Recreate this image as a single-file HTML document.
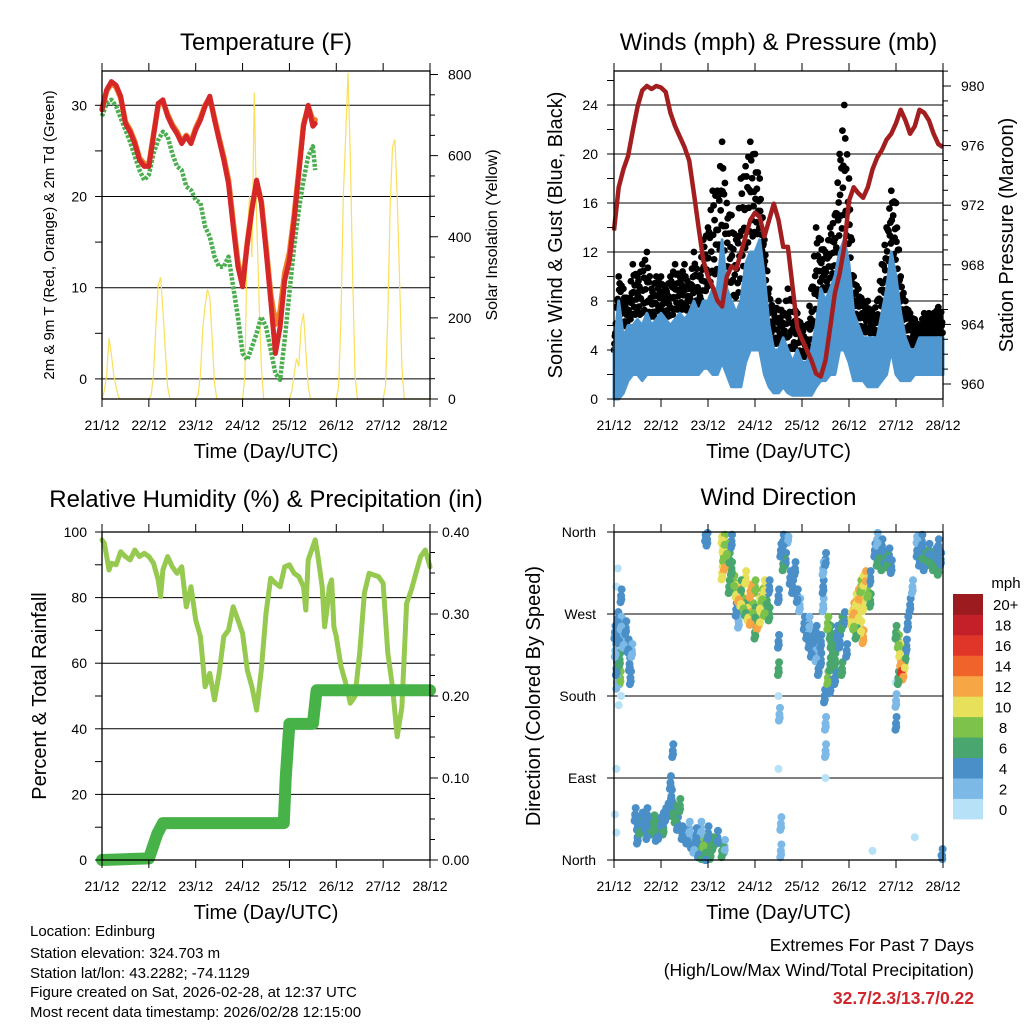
<!DOCTYPE html>
<html><head><meta charset="utf-8">
<style>
html,body{margin:0;padding:0;background:#fff;}
svg{display:block;font-family:"Liberation Sans",Arial,sans-serif;}
</style></head>
<body>
<svg id="fig" width="1024" height="1024" viewBox="0 0 1024 1024" xmlns="http://www.w3.org/2000/svg">
<rect width="1024" height="1024" fill="#fff"/>
<g id="layer"></g>
<g font-size="15" fill="#000">
<text x="30" y="936">Location: Edinburg</text>
<text x="30" y="958">Station elevation: 324.703 m</text>
<text x="30" y="978">Station lat/lon: 43.2282; -74.1129</text>
<text x="30" y="997">Figure created on Sat, 2026-02-28, at 12:37 UTC</text>
<text x="30" y="1017">Most recent data timestamp: 2026/02/28 12:15:00</text>
</g>
<g font-size="17.5" text-anchor="end">
<text x="974" y="951">Extremes For Past 7 Days</text>
<text x="974" y="976">(High/Low/Max Wind/Total Precipitation)</text>
<text x="974" y="1004" fill="#d0262c" font-weight="bold">32.7/2.3/13.7/0.22</text>
</g>
</svg>
<script>
// ---------- data ----------
const dayLabels = ["21/12","22/12","23/12","24/12","25/12","26/12","27/12","28/12"];
const tempTime = [0,0.1,0.2,0.3,0.4,0.5,0.6,0.7,0.8,0.9,1.0,1.1,1.2,1.3,1.4,1.5,1.6,1.7,1.8,1.9,2.0,2.1,2.2,2.3,2.4,2.5,2.6,2.7,2.8,2.9,3.0,3.1,3.2,3.3,3.4,3.5,3.6,3.7,3.8,3.9,4.0,4.1,4.2,4.3,4.4,4.5,4.55];
const temp2m = [29.5,31.7,32.6,32.2,31,28,27.1,25.8,24,23.3,23.3,26.6,30.2,30.6,28.8,27.7,26.9,25.8,26.6,25.8,27.3,28.4,29.9,31,28.4,26.2,24,21.4,16.7,12.3,10.1,14.8,18.5,21.8,19.3,14.1,8.6,2.8,5.7,10.8,13,17.4,22.5,27.7,30,27.7,28];
const temp9m = [29.6,31.6,32.4,32.0,30.8,28.2,27.3,26.0,24.2,23.6,23.5,26.8,30.0,30.4,29.0,27.9,27.1,26.0,26.7,26.0,27.5,28.6,30.0,30.8,28.6,26.4,24.3,21.8,17.2,12.8,10.4,15.0,18.7,21.6,19.5,14.6,9.3,6.0,7.4,11.6,13.8,17.9,22.8,27.9,29.8,28.4,28.4];
const dewTime = tempTime;
const dew2m = [28.8,30.2,30.6,29.9,28.6,27.3,26,24.4,22.9,21.8,22.4,24.7,26.2,27.1,26.6,24.7,23.3,22.9,21.1,20.7,19.6,19.3,16.7,15.6,13.4,12.3,12.3,13.4,10.1,6.8,2.8,2.1,3.5,5,6.8,5.7,3.2,0.6,-0.1,4.3,9.4,14.5,18.5,21.8,24.4,25.5,22.9];
const solarStep = 0.05;
const solar = [
0,20,60,150,110,60,30,5,0,0,0,0,0,0,0,0,0,0,0,0,
0,10,60,180,280,300,220,120,30,0,0,0,0,0,0,0,0,0,0,0,
0,10,60,170,230,270,250,150,40,0,0,0,0,0,0,0,0,0,0,0,
0,60,400,500,350,755,450,250,80,0,0,0,0,0,0,0,0,0,0,0,
0,20,60,100,80,180,211,120,30,0,0,0,0,0,0,0,0,0,0,0,
0,30,200,500,650,804,600,300,60,0,0,0,0,0,0,0,0,0,0,0,
0,30,200,480,620,640,500,300,80,0,0,0,0,0,0,0,0,0,0,0,
0];
const windStep = 0.1;
const windHi = [4,8,5,6,6,6.5,6,7,6,6.5,7,6.5,6,6.5,7,6.5,7,8,7,8,8,9,9,13,9,8,7,8,11,12,12,13,10,6,4,4,5,4,3,4,3,3,4,6,9,8,9,10,12,13,11,7,6,5,5,5,5,7,9,12,10,7,5,4,4,5,5,5,5,5,5];
const windLo = [0,0,0.5,1.5,2,2,1.5,2,2,2,2,2,2,2,2,2,2,2,2,2.5,2.5,2,2,3,2,1,1,1,3,4,4,4,2,1,0.5,0.5,1,0.5,0.3,0.3,0.3,0.3,0.3,1,1.5,1.5,2,2,4,4,3,1.5,1.5,1.5,1,1,1,1.5,2,4,2,1.5,1.5,1.5,2,2,2,2,2,2,2];
const gust = [4,10,9,8,11,10,11,12,9,10,10,9,10,11,10,11,9,12,10,13,14,17,17,21,16,15,13,18,19,21,20,18,13,9,7,8,7,9,8,7,6,6,9,14,13,12,14,15,20,24,18,10,9,8,8,7,8,11,14,17,16,10,8,7,6.5,6,7,7,7,7.5,7];
const pressure = [970.3,973.2,974.4,975.3,977,978.6,979.7,980,979.8,980,979.9,979.6,978.2,977.3,976.6,975.9,975,972.8,970.5,968.3,967.2,966.5,965.6,965.2,967.2,967.9,967.7,968.8,969.9,971,971.5,971.2,969.9,971,972.1,971,969.2,969.2,966.5,963.8,963,962.3,961.6,960.7,960.5,961.6,963.8,966.1,967.4,969.2,972.3,973.2,972.8,972.5,973.2,974.4,975.2,975.7,976.4,976.8,977.5,978.4,977.7,976.8,977.3,978.4,978.2,977.7,976.8,976.1,975.9];
const rhTime = [0,0.05,0.1,0.15,0.2,0.3,0.4,0.5,0.6,0.7,0.8,0.9,1.0,1.1,1.2,1.25,1.3,1.4,1.5,1.6,1.7,1.8,1.9,2.0,2.1,2.2,2.3,2.4,2.5,2.6,2.7,2.8,2.9,3.0,3.1,3.2,3.3,3.4,3.5,3.6,3.7,3.8,3.9,4.0,4.1,4.2,4.3,4.35,4.4,4.5,4.55,4.6,4.7,4.75,4.8,4.85,4.9,4.95,5.0,5.1,5.2,5.3,5.4,5.5,5.6,5.7,5.8,5.9,6.0,6.1,6.2,6.3,6.4,6.5,6.6,6.7,6.8,6.9,7.0];
const rhVals = [97.6,96.6,92.5,88.4,90.5,90,94,92.5,91.5,94.5,92.5,93.5,92.5,90.5,85.4,80.3,88.4,92.5,89.4,87.4,89.4,77.2,83.3,73.2,68.1,52.8,56.9,48.8,56.9,68.1,70.1,77.2,73.2,69.1,57.9,52.8,45.7,57.9,75.2,85.9,84.4,83.3,89.4,90,87.4,86.4,83.3,76.2,91.5,95.6,97.6,93.5,83.3,71.1,76.2,83.3,85.4,71.1,68.1,59,53.9,47.8,49.9,63.1,81.4,87.4,86.9,86.4,84.4,63.1,52.8,37.6,46.7,78.2,82.3,87.4,92.5,94.5,89.4];
const precipTime = [0,1.0,1.05,1.12,1.18,1.3,3.88,3.92,4.0,4.5,4.58,7.0];
const precipVals = [0,0.002,0.01,0.022,0.032,0.045,0.045,0.1,0.166,0.166,0.207,0.207];
const dirTime = [0.02,0.03,0.05,0.06,0.08,0.1,0.12,0.13,0.15,0.2,0.25,0.3,0.33,0.35,0.38,0.05,0.08,0.15,0.15,0.1,
0.45,0.5,0.55,0.6,0.65,0.7,0.75,0.8,0.85,0.9,0.95,1.0,1.05,1.1,1.15,1.2,1.2,1.22,1.25,1.3,1.35,1.4,1.45,1.25,0.5,0.7,0.9,1.05,
1.55,1.6,1.65,1.7,1.75,1.8,1.85,1.9,1.95,2.0,2.05,2.1,2.2,2.3,2.35,1.85,2.0,1.95,1.95,1.98,
2.3,2.32,2.33,2.35,2.3,2.35,2.4,2.45,2.5,2.5,2.45,
2.55,2.6,2.65,2.7,2.75,2.8,2.85,2.9,2.95,3.0,3.05,3.1,3.15,3.2,3.25,3.3,2.7,2.8,2.9,3.0,3.1,3.2,2.6,3.0,3.3,2.65,
3.55,3.6,3.65,3.7,3.75,3.8,3.85,3.9,3.95,3.6,3.5,3.5,3.5,3.5,3.52,
4.05,4.1,4.15,4.2,4.25,4.3,4.35,4.4,4.45,4.45,4.45,4.5,4.15,4.3,4.4,4.5,4.5,4.48,
4.55,4.6,4.62,4.65,4.7,4.55,4.6,4.75,4.8,4.85,4.9,4.95,4.7,4.85,4.6,
5.05,5.1,5.15,5.2,5.25,5.3,5.35,5.4,5.45,5.1,5.2,5.3,5.15,5.3,5.25,5.45,
5.55,5.6,5.65,5.7,5.75,5.8,5.85,5.9,5.6,5.7,
6.0,6.05,6.08,6.1,6.12,6.15,6.18,6.2,6.22,6.0,6.0,6.25,6.3,6.35,6.05,6.0,
6.45,6.5,6.55,6.6,6.65,6.7,6.75,6.8,6.85,6.9,6.95,6.45,6.55,6.98,6.9,
3.5,3.55,3.55,4.5,6.4,5.5,0.02,0.05,0.05];
const dirDeg = [250,230,210,195,265,245,220,200,260,240,255,235,215,200,230,300,320,290,180,170,
50,40,35,45,38,30,40,35,42,38,30,40,45,50,55,60,85,70,55,48,40,60,30,120,25,50,28,35,
25,35,20,15,28,10,5,20,12,30,8,18,25,10,15,35,2,0,357,352,
355,345,335,325,315,350,340,330,320,350,300,
305,295,290,285,280,275,270,265,275,270,260,280,290,300,285,270,300,310,295,300,265,275,275,250,300,262,
340,350,330,355,310,300,320,290,280,325,290,240,210,180,160,
260,250,240,230,245,225,210,240,320,300,280,330,260,250,220,150,120,180,
260,250,240,230,220,200,215,250,240,260,265,230,200,210,190,
265,275,285,290,300,305,310,295,285,260,270,280,250,245,255,310,
340,330,335,325,330,328,335,322,352,345,
250,240,230,220,212,205,215,225,235,195,175,260,280,300,200,150,
340,330,335,325,332,340,330,325,335,320,330,355,350,5,345,
100,40,10,90,25,10,50,30,100];
const dirSpeed = [4,2,4,2,4,4,6,8,2,2,4,4,4,4,2,0,0,4,0,0,
4,4,6,4,4,4,4,6,6,6,4,4,4,4,4,4,4,4,6,6,4,6,4,4,4,4,4,6,
4,2,4,2,4,4,6,8,6,4,6,6,4,6,2,2,6,4,4,4,
10,10,8,12,10,8,8,6,6,4,6,
8,10,12,10,8,6,10,12,8,6,12,10,8,10,6,6,6,10,12,8,10,8,4,6,4,2,
4,4,4,2,4,4,4,4,2,6,4,4,6,0,2,
4,4,4,4,4,2,4,4,2,4,2,4,2,4,4,2,2,4,
8,6,6,6,6,8,6,4,4,6,4,4,4,6,4,
10,12,10,12,8,10,12,8,6,8,10,10,6,12,10,4,
4,6,6,6,4,6,4,4,2,4,
6,8,10,12,16,12,10,6,4,0,2,4,4,2,6,4,
4,4,6,4,6,4,6,6,4,6,4,2,4,4,4,
0,2,2,0,0,0,0,0,0];
const cbLabels = ["0","2","4","6","8","10","12","14","16","18","20+"];
const cbColors = ["#b6e1f6","#7cb9e6","#4a8fc8","#48a66e","#7dc24b","#e6e05a","#f7a646","#f0632a","#e0362a","#c4202a","#9b1b1e"];

// ---------- helpers ----------
const NS = "http://www.w3.org/2000/svg";
const layer = document.getElementById("layer");
function mk(tag, attrs, parent){
  const e = document.createElementNS(NS, tag);
  for (const k in attrs) e.setAttribute(k, attrs[k]);
  (parent || layer).appendChild(e);
  return e;
}
function txt(s, x, y, size, anchor, parent, rot){
  const t = mk("text", {x:x, y:y, "font-size":size, "text-anchor":anchor||"middle", fill:"#000"}, parent);
  if (rot) t.setAttribute("transform", "rotate(-90 "+x+" "+y+")");
  t.textContent = s;
  return t;
}
function group(name){
  const g = mk("g", {});
  
  
  return g;
}
function pathFrom(xs, ys){
  let d = "";
  for (let i=0;i<xs.length;i++) d += (i?"L":"M") + xs[i].toFixed(1) + " " + ys[i].toFixed(1);
  return d;
}
function xAxisTime(L, R, B, T, g){
  const xs = d => L + d*(R-L)/7;
  for (let i=0;i<8;i++){
    const x = xs(i);
    mk("line", {x1:x, y1:B, x2:x, y2:B+8, stroke:"#000", "stroke-width":1}, g);
    mk("line", {x1:x, y1:T, x2:x, y2:T-8, stroke:"#000", "stroke-width":1}, g);
    const t = txt(dayLabels[i], x, B+31, 14, "middle", g);
    
    
  }
  const tt = txt("Time (Day/UTC)", (L+R)/2, B+59, 20, "middle", g);
  
  
  return xs;
}
function frame(L,R,T,B,g){
  const r = mk("rect", {x:L, y:T, width:R-L, height:B-T, fill:"none", stroke:"#000", "stroke-width":1.3}, g);
  
  
}
function grid(L,R,ys,g){
  ys.forEach(y=>{
    const l = mk("line", {x1:L, y1:y, x2:R, y2:y, stroke:"#000", "stroke-width":1}, g);
    
    
  });
}
function ticksY(x, ys, len, g){
  ys.forEach(y=> mk("line", {x1:x, y1:y, x2:x+len, y2:y, stroke:"#000", "stroke-width":1}, g));
}

// ---------- Panel 1: Temperature ----------
(function(){
  const L=102,R=430,T=71,B=399;
  const g = group("temperature-panel");
  const xs = d => L + d*(R-L)/7;
  const yT = v => 378.9 - v*9.12;
  const yS = v => 399 - v*0.4056;
  const t = txt("Temperature (F)", (L+R)/2, 50, 24, "middle", g);
   
  grid(L,R,[0,10,20,30].map(yT),g);
  const sx = solar.map((v,i)=>xs(i*solarStep)), sy = solar.map(v=>yS(v));
  const sp = mk("path", {d:pathFrom(sx,sy), fill:"none", stroke:"#f9df5a", "stroke-width":1.2}, g);
   
  const dp = mk("path", {d:pathFrom(dewTime.map(xs), dew2m.map(yT)), fill:"none", stroke:"#4bae4f", "stroke-width":4.5, "stroke-dasharray":"3 1.5", "stroke-linejoin":"round"}, g);
   
  const op = mk("path", {d:pathFrom(tempTime.map(xs), temp9m.map(yT)), fill:"none", stroke:"#f07f2a", "stroke-width":5.5, "stroke-linejoin":"round", "stroke-linecap":"round"}, g);
   
  const rp = mk("path", {d:pathFrom(tempTime.map(xs), temp2m.map(yT)), fill:"none", stroke:"#d62728", "stroke-width":5, "stroke-linejoin":"round", "stroke-linecap":"round"}, g);
   
  frame(L,R,T,B,g);
  xAxisTime(L,R,B,T,g);
  ticksY(L, [0,5,10,15,20,25,30].map(yT), -7, g);
  [0,10,20,30].forEach(v=>{ const e=txt(String(v), L-15, yT(v)+5, 14, "end", g);   });
  const sv=[]; for(let v=0; v<=800; v+=50) sv.push(v);
  sv.forEach(v=> mk("line",{x1:R,y1:yS(v),x2:R+(v%200===0?8:5),y2:yS(v),stroke:"#000","stroke-width":1},g));
  [0,200,400,600,800].forEach(v=>{ const e=txt(String(v), R+18, yS(v)+5, 14, "start", g);   });
  const a = txt("2m & 9m T (Red, Orange) & 2m Td (Green)", 54, 235, 15, "middle", g, true);
   
  const b = txt("Solar Insolation (Yellow)", 497, 235, 16, "middle", g, true);
   
})();

// ---------- Panel 2: Winds ----------
(function(){
  const L=614,R=943,T=71,B=399;
  const g = group("winds-panel");
  const xs = d => L + d*(R-L)/7;
  const yW = v => 399 - v*12.25;
  const yP = v => 384 - (v-960)*14.9;
  const t = txt("Winds (mph) & Pressure (mb)", (L+R)/2, 50, 24, "middle", g);
   
  grid(L,R,[4,8,12,16,20,24].map(yW),g);
  // gust cloud
  const fr = [1.0,0.55,0.85,0.3,0.7,0.15,0.95,0.45,0.6,0.2];
  for (let i=0;i<gust.length-1;i++){
    for (let k=0;k<fr.length;k++){
      const j = i+1;
      const s = k/fr.length;
      const gv = gust[i]*(1-s)+gust[j]*s, wv = windHi[i]*(1-s)+windHi[j]*s;
      const v = wv + (gv-wv)*fr[k];
      const c = mk("circle",{cx:xs((i+s)*windStep), cy:yW(v), r:3.4, fill:"#000"}, g);
      
      
    }
  }
  // sonic wind band
  const tx = windHi.map((v,i)=>xs(i*windStep));
  let d = pathFrom(tx, windHi.map(yW));
  for (let i=windLo.length-1;i>=0;i--) d += "L"+tx[i].toFixed(1)+" "+yW(windLo[i]).toFixed(1);
  const band = mk("path",{d:d+"Z", fill:"#4f97d1", stroke:"#4f97d1", "stroke-width":3, "stroke-linejoin":"round"}, g);
   
  const pp = mk("path",{d:pathFrom(pressure.map((v,i)=>xs(i*windStep)), pressure.map(yP)), fill:"none", stroke:"#a31f1f", "stroke-width":4.5, "stroke-linejoin":"round"}, g);
   
  frame(L,R,T,B,g);
  xAxisTime(L,R,B,T,g);
  const wt=[]; for(let v=0; v<=26; v+=2) wt.push(yW(v));
  ticksY(L, wt, -7, g);
  [0,4,8,12,16,20,24].forEach(v=>{ const e=txt(String(v), L-16, yW(v)+5, 14, "end", g);   });
  for (let v=960; v<=981; v++) mk("line",{x1:R,y1:yP(v),x2:R+(v%4===0?8:5),y2:yP(v),stroke:"#000","stroke-width":1},g);
  [960,964,968,972,976,980].forEach(v=>{ const e=txt(String(v), R+18, yP(v)+5, 14, "start", g);   });
  const a = txt("Sonic Wind & Gust (Blue, Black)", 562, 235, 20, "middle", g, true);
   
  const b = txt("Station Pressure (Maroon)", 1013, 235, 20, "middle", g, true);
   
})();

// ---------- Panel 3: RH & precip ----------
(function(){
  const L=102,R=430,T=532,B=860;
  const g = group("humidity-panel");
  const xs = d => L + d*(R-L)/7;
  const yH = v => 860 - v*3.28;
  const yR = v => 860 - v*820;
  const t = txt("Relative Humidity (%) & Precipitation (in)", 266, 507, 24, "middle", g);
   
  grid(L,R,[20,40,60,80].map(yH),g);
  const rh = mk("path",{d:pathFrom(rhTime.map(xs), rhVals.map(yH)), fill:"none", stroke:"#95c94f", "stroke-width":5, "stroke-linejoin":"round", "stroke-linecap":"round"}, g);
   
  const pr = mk("path",{d:pathFrom(precipTime.map(xs), precipVals.map(yR)), fill:"none", stroke:"#47b247", "stroke-width":12, "stroke-linejoin":"round", "stroke-linecap":"round"}, g);
   
  frame(L,R,T,B,g);
  xAxisTime(L,R,B,T,g);
  const ht=[]; for(let v=0; v<=100; v+=10) ht.push(yH(v));
  ticksY(L, ht, -7, g);
  [0,20,40,60,80,100].forEach(v=>{ const e=txt(String(v), L-15, yH(v)+5, 14, "end", g);   });
  for (let v=0; v<=40; v+=2.5) mk("line",{x1:R,y1:yR(v/100),x2:R+(v%10===0?8:5),y2:yR(v/100),stroke:"#000","stroke-width":1},g);
  ["0.00","0.10","0.20","0.30","0.40"].forEach(s=>{ const e=txt(s, R+12, yR(parseFloat(s))+5, 14, "start", g);   });
  const a = txt("Percent & Total Rainfall", 46, 696, 20, "middle", g, true);
   
})();

// ---------- Panel 4: Wind direction ----------
(function(){
  const L=614,R=943,T=532,B=860;
  const g = group("wind-direction-panel");
  const xs = d => L + d*(R-L)/7;
  const yD = v => 860 - v*(328/360);
  const t = txt("Wind Direction", (L+R)/2, 505, 24, "middle", g);
   
  grid(L,R,[90,180,270].map(yD),g);
  const spread = [[0,0],[0.012,7],[-0.012,-7],[0.006,-4]];
  spread.forEach((o,k)=>{
    for (let i=0;i<dirTime.length;i++){
      if (k>0 && dirSpeed[i]===0) continue;
      const idx = Math.max(0, Math.min(10, Math.floor(dirSpeed[i]/2)));
      let dv = dirDeg[i] + o[1];
      if (dv<0 || dv>360) dv = dirDeg[i];
      const c = mk("circle",{cx:xs(Math.max(0,Math.min(7,dirTime[i]+o[0]))), cy:yD(dv), r:4, fill:cbColors[idx]}, g);
      
      
    }
  });
  frame(L,R,T,B,g);
  xAxisTime(L,R,B,T,g);
  ticksY(L, [0,90,180,270,360].map(yD), -7, g);
  [["North",0],["East",90],["South",180],["West",270],["North",360]].forEach(p=>{ const e=txt(p[0], L-18, yD(p[1])+5, 14, "end", g);   });
  const a = txt("Direction (Colored By Speed)", 540, 696, 20, "middle", g, true);
   
  const cb = group("speed-colorbar");
  const u = txt("mph", 1006, 588, 15, "middle", cb);
   
  const h = 225/11;
  for (let i=0;i<11;i++){
    const y = 819 - (i+1)*h;
    const r = mk("rect",{x:953, y:y, width:30, height:h+0.4, fill:cbColors[i]}, cb);
    
    
    const l = txt(cbLabels[i], i===10?993:1003, y+h/2+6, 15, i===10?"start":"middle", cb);
    
    
  }
})();
</script>
</body></html>
